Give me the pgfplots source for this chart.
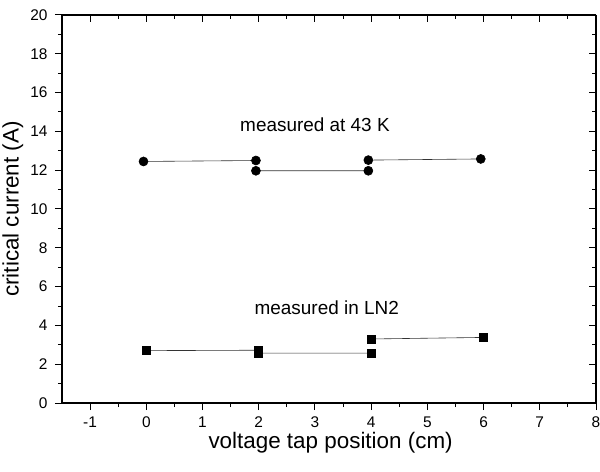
\documentclass[border=0pt]{standalone}
\usepackage{pgfplots}
\pgfplotsset{compat=1.18}
\usepackage{fontspec}
\setmainfont{Liberation Sans}

\pgfplotsset{
  common/.style={
    scale only axis,
    width=534bp, height=388bp,
    xmin=-1.5, xmax=8, ymin=0, ymax=20,
    xtick={-1,0,...,8}, ytick={0,2,...,20},
    minor x tick num=1, minor y tick num=1,
    major tick length=7bp, minor tick length=4bp,
    every tick/.style={black, line width=1bp},
    axis line style={line width=1.3bp},
  }
}

\begin{document}
\begin{tikzpicture}
% frame of the reference picture around the axis box
\path[use as bounding box] (-62bp,-69bp) rectangle (538bp,403bp);
\begin{axis}[common,
  axis x line*=bottom, axis y line*=left,
  tick align=outside,
  xticklabels={-1,0,1,2,3,4,5,6,7,8},
  /pgf/number format/assume math mode=true,
  tick label style={font=\fontsize{15.5}{18}\selectfont},
  xticklabel style={yshift=-3bp},
  yticklabel style={xshift=-4bp},
  xlabel={voltage tap position (cm)},
  ylabel={critical current (A)},
  label style={font=\fontsize{22.5}{26}\selectfont},
  xlabel style={at={(axis description cs:0.503,-0.103)}, anchor=center},
  ylabel style={at={(axis description cs:-0.092,0.5)}, anchor=center},
  unbounded coords=jump,
]
% measured at 43 K
\addplot[black!80, line width=0.6bp, mark=*, mark size=4.5bp,
  mark options={solid, fill=black, draw=black}]
  coordinates {(-0.05,12.45) (1.95,12.5) (nan,nan) (1.95,11.97) (3.95,11.97)
               (nan,nan) (3.95,12.52) (5.95,12.58)};
% measured in LN2
\addplot[black!80, line width=0.6bp, mark=square*, mark size=4bp,
  mark options={solid, fill=black, draw=black}]
  coordinates {(0,2.7) (2,2.72) (nan,nan) (2,2.57) (4,2.57)
               (nan,nan) (4,3.3) (6,3.38)};
\node[font=\fontsize{19}{22}\selectfont] at (axis cs:3.0,14.33) {measured at 43 K};
\node[font=\fontsize{19}{22}\selectfont] at (axis cs:3.21,4.9) {measured in LN2};
\end{axis}
\begin{axis}[common,
  axis x line*=top, axis y line*=right,
  tick align=inside,
  xticklabels={}, yticklabels={},
]
\end{axis}
\end{tikzpicture}
\end{document}
